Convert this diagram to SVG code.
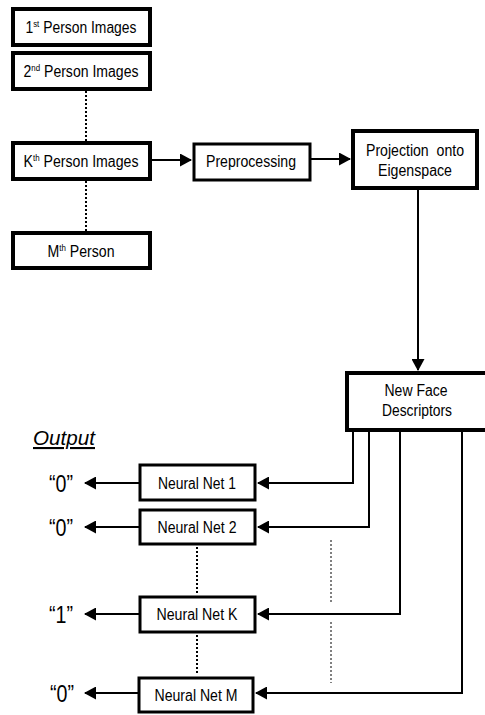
<svg xmlns="http://www.w3.org/2000/svg" width="485" height="715" viewBox="0 0 485 715">
<defs>
<marker id="ah" markerWidth="12" markerHeight="13" refX="11" refY="6.5" orient="auto" markerUnits="userSpaceOnUse">
<path d="M0,0 L12,6.5 L0,13 Z" fill="#000"/>
</marker>
<style>
text{font-family:"Liberation Sans",Arial,sans-serif;fill:#000;text-anchor:middle}
.t{font-size:16px}
.sup{font-size:9px}
.thick{fill:#fff;stroke:#000;stroke-width:4}
.box{fill:#fff;stroke:#000;stroke-width:3}
.ln{fill:none;stroke:#000;stroke-width:2}
.dot{fill:none;stroke:#000;stroke-width:2;stroke-dasharray:2 2}
.thin{fill:none;stroke:#000;stroke-width:1;stroke-dasharray:2 2}
.out{font-size:23px}
</style>
</defs>
<rect width="485" height="715" fill="#fff"/>
<g id="connectors">
<line class="dot" x1="86" y1="91" x2="86" y2="141"/>
<line class="dot" x1="86" y1="181" x2="86" y2="231"/>
<line class="ln" x1="150" y1="160" x2="191" y2="160" marker-end="url(#ah)"/>
<line class="ln" x1="310" y1="159" x2="350" y2="159" marker-end="url(#ah)"/>
<line class="ln" x1="418" y1="189" x2="418" y2="370" marker-end="url(#ah)"/>
<polyline class="ln" points="353,431 353,483 258,483" marker-end="url(#ah)"/>
<polyline class="ln" points="369,431 369,527 258,527" marker-end="url(#ah)"/>
<polyline class="ln" points="400,431 400,614 258,614" marker-end="url(#ah)"/>
<polyline class="ln" points="462,431 462,693 256,693" marker-end="url(#ah)"/>
<line class="ln" x1="139" y1="483" x2="85" y2="483" marker-end="url(#ah)"/>
<line class="ln" x1="139" y1="527" x2="85" y2="527" marker-end="url(#ah)"/>
<line class="ln" x1="139" y1="614" x2="85" y2="614" marker-end="url(#ah)"/>
<line class="ln" x1="138" y1="693" x2="85" y2="693" marker-end="url(#ah)"/>
<line class="dot" x1="197" y1="547" x2="197" y2="594"/>
<line class="dot" x1="197" y1="635" x2="197" y2="675"/>
<line class="thin" x1="331" y1="540" x2="331" y2="602"/>
<line class="thin" x1="331" y1="622" x2="331" y2="683"/>
</g>
<g id="p1">
<rect class="thick" x="13" y="9" width="137" height="36"/>
<text class="t" x="81" y="33" textLength="111" lengthAdjust="spacingAndGlyphs">1<tspan class="sup" dy="-6">st</tspan><tspan dy="6"> Person Images</tspan></text>
</g>
<g id="p2">
<rect class="thick" x="13" y="53" width="137" height="36"/>
<text class="t" x="81" y="77" textLength="115" lengthAdjust="spacingAndGlyphs">2<tspan class="sup" dy="-6">nd</tspan><tspan dy="6"> Person Images</tspan></text>
</g>
<g id="pk">
<rect class="thick" x="13" y="143" width="137" height="36"/>
<text class="t" x="81" y="167" textLength="115" lengthAdjust="spacingAndGlyphs">K<tspan class="sup" dy="-6">th</tspan><tspan dy="6"> Person Images</tspan></text>
</g>
<g id="pm">
<rect class="thick" x="13" y="233" width="137" height="35"/>
<text class="t" x="81" y="257" textLength="67" lengthAdjust="spacingAndGlyphs">M<tspan class="sup" dy="-6">th</tspan><tspan dy="6"> Person</tspan></text>
</g>
<g id="pre">
<rect class="box" x="194" y="144" width="116" height="36"/>
<text class="t" x="251" y="167" textLength="90" lengthAdjust="spacingAndGlyphs">Preprocessing</text>
</g>
<g id="proj">
<rect class="thick" x="353" y="131" width="124" height="57"/>
<text class="t" x="415" y="156" textLength="98" lengthAdjust="spacingAndGlyphs" style="white-space:pre" xml:space="preserve">Projection  onto</text>
<text class="t" x="415" y="176" textLength="74" lengthAdjust="spacingAndGlyphs">Eigenspace</text>
</g>
<g id="nfd">
<rect class="thick" x="347" y="373" width="142" height="57"/>
<text class="t" x="416" y="396" textLength="63" lengthAdjust="spacingAndGlyphs">New Face</text>
<text class="t" x="417" y="416" textLength="70" lengthAdjust="spacingAndGlyphs">Descriptors</text>
</g>
<g id="nn1">
<rect class="box" x="140" y="465" width="115" height="35"/>
<text class="t" x="197" y="489" textLength="78" lengthAdjust="spacingAndGlyphs">Neural Net 1</text>
</g>
<g id="nn2">
<rect class="box" x="140" y="510" width="115" height="34"/>
<text class="t" x="197" y="533" textLength="79" lengthAdjust="spacingAndGlyphs">Neural Net 2</text>
</g>
<g id="nnk">
<rect class="box" x="140" y="597" width="115" height="35"/>
<text class="t" x="197" y="620" textLength="81" lengthAdjust="spacingAndGlyphs">Neural Net K</text>
</g>
<g id="nnm">
<rect class="box" x="139" y="678" width="114" height="34"/>
<text class="t" x="196" y="701" textLength="83" lengthAdjust="spacingAndGlyphs">Neural Net M</text>
</g>
<g id="outputs">
<text x="64" y="445" style="font-size:21px;font-style:italic;text-decoration:underline" textLength="62" lengthAdjust="spacingAndGlyphs">Output</text>
<text class="out" x="61" y="492" textLength="24" lengthAdjust="spacingAndGlyphs">“0”</text>
<text class="out" x="61" y="536" textLength="24" lengthAdjust="spacingAndGlyphs">“0”</text>
<text class="out" x="61" y="623" textLength="24" lengthAdjust="spacingAndGlyphs">“1”</text>
<text class="out" x="62" y="702" textLength="24" lengthAdjust="spacingAndGlyphs">“0”</text>
</g>
</svg>
